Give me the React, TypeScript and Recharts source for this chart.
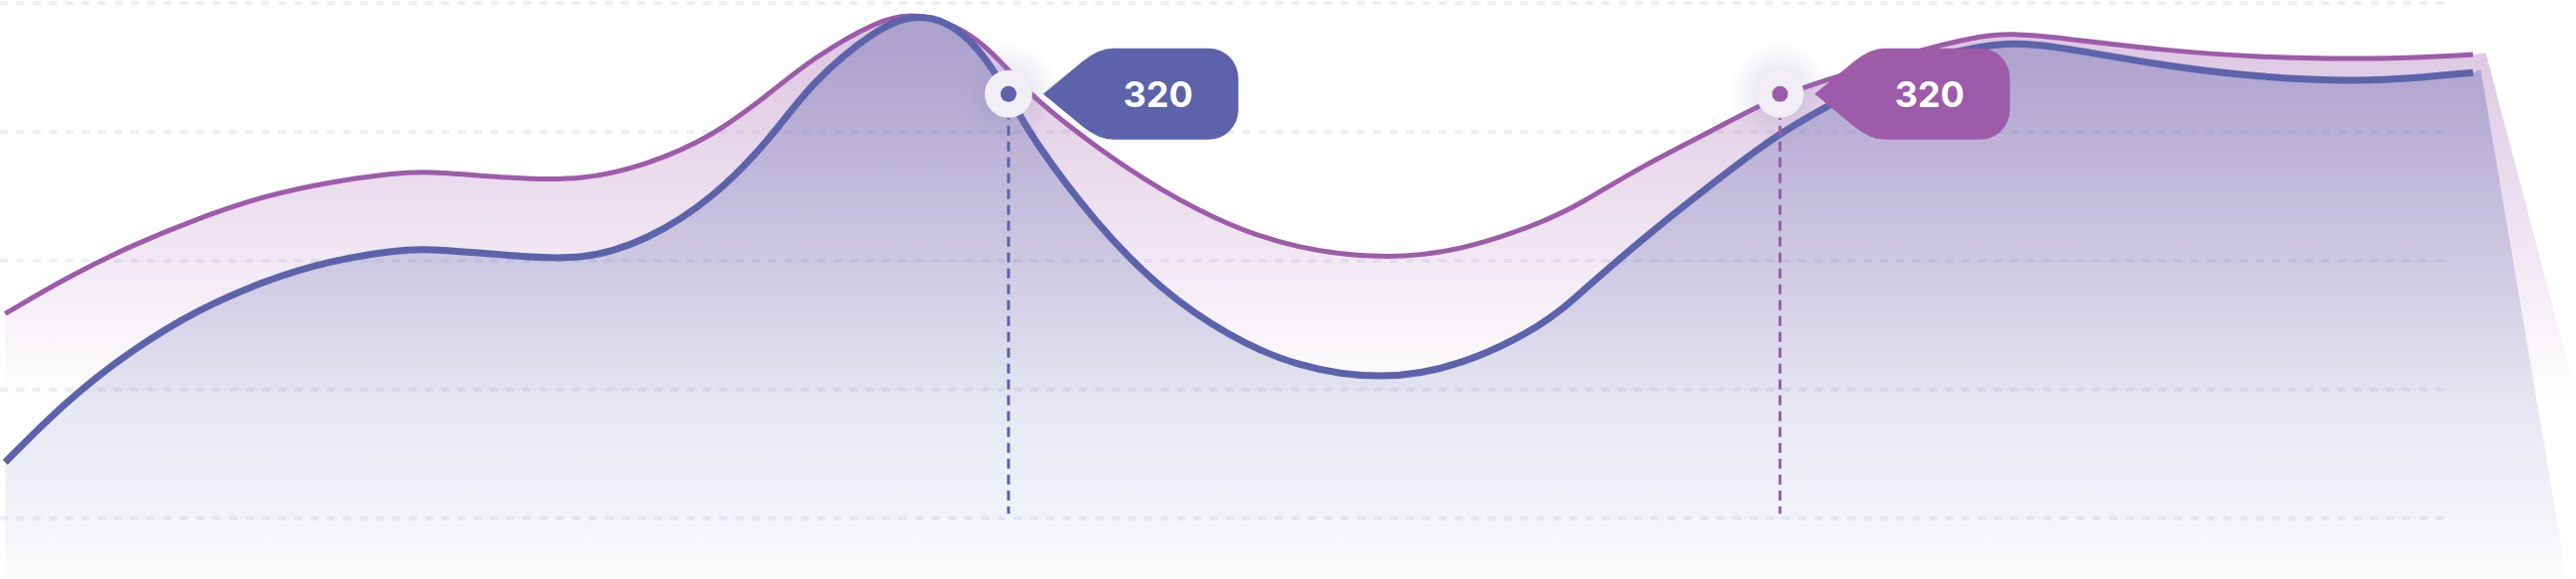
import React from 'react'
import { ComposedChart, Area, XAxis, YAxis, ReferenceLine, ReferenceDot } from 'recharts'

// sample positions along the x axis (0..100) and the two series
const positions = [
  0.2, 2.6, 5.1, 7.7, 10.3, 12.8, 15.4, 16.7, 20.0, 22.6, 25.1, 27.7, 30.0, 31.5,
  34.1, 35.4, 36.7, 38.0, 39.15, 40.0, 42.6, 45.1, 47.7, 50.3, 53.6, 56.7, 60.0,
  61.3, 63.8, 66.4, 69.1, 71.5, 74.1, 76.7, 78.1, 80.0, 83.8, 87.7, 91.5, 94.1, 96.0,
]
const violetValues = [
  175, 199, 220, 238, 253, 262, 268, 269, 264, 263, 273, 292, 322, 343,
  369, 373, 368, 356, 336, 319, 284, 256, 233, 218, 211, 216, 236,
  247, 273, 295, 320, 332, 347, 358, 360, 357, 349, 344, 343, 344, 346,
]
const indigoValues = [
  77, 118, 151, 178, 197, 210, 217, 218, 213, 210, 223, 251, 292, 328,
  364, 372, 369, 351, 320, 292, 233, 190, 160, 140, 131, 140, 168,
  188, 225, 260, 295, 317, 341, 351, 354, 351, 339, 331, 328, 331, 334,
]

// the fills run on past the end of each line down to the floor
const violetTailX = [96.0, 96.5, 101.9]
const violetTail = [346, 347, 0]
const indigoTailX = [96.0, 96.3, 99.65]
const indigoTail = [334, 336, 0]

const gridValues = [40, 125, 210, 295, 380]
const gridEnd = 95.2

const calloutSeries = ['indigo', 'violet']
const calloutPositions = [39.15, 69.1]
const calloutValues = [320, 320]
const guideFloor = 43

const COLORS: Record<string, string> = {
  violet: '#9d5baa',
  indigo: '#5c63ab',
}

const rowMap = new Map<number, Record<string, number>>()
const put = (t: number, key: string, v: number) => {
  const row = rowMap.get(t) ?? { t }
  row[key] = v
  rowMap.set(t, row)
}
positions.forEach((t, i) => {
  put(t, 'violet', violetValues[i])
  put(t, 'indigo', indigoValues[i])
})
violetTailX.forEach((t, i) => put(t, 'violetTail', violetTail[i]))
indigoTailX.forEach((t, i) => put(t, 'indigoTail', indigoTail[i]))
const data = [...rowMap.values()].sort((a, b) => a.t - b.t)

function badgePath(cx: number, cy: number) {
  return [
    `M${cx + 35},${cy}`,
    `L${cx + 75},${cy - 33}`,
    `Q${cx + 91},${cy - 46} ${cx + 106},${cy - 46}`,
    `L${cx + 202},${cy - 46}`,
    `A30,30 0 0 1 ${cx + 232},${cy - 16}`,
    `L${cx + 232},${cy + 16}`,
    `A30,30 0 0 1 ${cx + 202},${cy + 46}`,
    `L${cx + 106},${cy + 46}`,
    `Q${cx + 91},${cy + 46} ${cx + 75},${cy + 33}`,
    'Z',
  ].join(' ')
}

function Callout({ cx, cy, color, value }: { cx?: number; cy?: number; color: string; value: number }) {
  if (cx == null || cy == null) return null
  return (
    <g>
      <circle cx={cx} cy={cy} r={52} fill="url(#markerGlow)" />
      <circle cx={cx} cy={cy} r={24} fill="#f1eef5" />
      <circle cx={cx} cy={cy} r={8} fill={color} />
      <path d={badgePath(cx, cy)} fill={color} />
      <text
        x={cx + 151}
        y={cy + 13}
        textAnchor="middle"
        fill="#ffffff"
        fontFamily="Inter, 'Noto Sans', sans-serif"
        fontWeight={700}
        fontSize={36}
      >
        {value}
      </text>
    </g>
  )
}

export default function App() {
  return (
    <div style={{ position: 'absolute', left: 0, top: 0, width: 2600, height: 584, background: '#fff' }}>
      <ComposedChart width={2600} height={584} data={data} margin={{ top: 3, right: 0, bottom: 0, left: 0 }}>
        <defs>
          <linearGradient id="violetFill" gradientUnits="userSpaceOnUse" x1="0" y1="0" x2="0" y2="584">
            <stop offset="0.02" stopColor={COLORS.violet} stopOpacity={0.37} />
            <stop offset="0.5" stopColor={COLORS.violet} stopOpacity={0.11} />
            <stop offset="0.7" stopColor={COLORS.violet} stopOpacity={0} />
          </linearGradient>
          <linearGradient id="indigoFill" gradientUnits="userSpaceOnUse" x1="0" y1="0" x2="0" y2="584">
            <stop offset="0" stopColor={COLORS.indigo} stopOpacity={0.38} />
            <stop offset="0.12" stopColor={COLORS.indigo} stopOpacity={0.36} />
            <stop offset="0.3" stopColor={COLORS.indigo} stopOpacity={0.29} />
            <stop offset="0.45" stopColor={COLORS.indigo} stopOpacity={0.24} />
            <stop offset="0.67" stopColor={COLORS.indigo} stopOpacity={0.165} />
            <stop offset="0.89" stopColor={COLORS.indigo} stopOpacity={0.08} />
            <stop offset="1" stopColor={COLORS.indigo} stopOpacity={0.02} />
          </linearGradient>
          <radialGradient id="markerGlow">
            <stop offset="0.4" stopColor="#8a86b8" stopOpacity={0.18} />
            <stop offset="1" stopColor="#8a86b8" stopOpacity={0} />
          </radialGradient>
        </defs>

        <XAxis type="number" dataKey="t" domain={[0, 100]} allowDataOverflow hide />
        <YAxis type="number" domain={[0, 380]} hide />

        {gridValues.map((v) => (
          <ReferenceLine
            key={v}
            segment={[{ x: 0, y: v }, { x: gridEnd, y: v }]}
            stroke="rgba(92,99,171,0.1)"
            strokeWidth={4}
            strokeDasharray="8 8.5"
            ifOverflow="visible"
          />
        ))}

        <Area
          type="basis"
          dataKey="violet"
          stroke={COLORS.violet}
          strokeWidth={5}
          fill="url(#violetFill)"
          fillOpacity={1}
          dot={false}
          activeDot={false}
          isAnimationActive={false}
        />
        <Area
          type="linear"
          dataKey="violetTail"
          stroke="none"
          fill="url(#violetFill)"
          fillOpacity={1}
          connectNulls
          dot={false}
          activeDot={false}
          isAnimationActive={false}
        />
        <Area
          type="basis"
          dataKey="indigo"
          stroke={COLORS.indigo}
          strokeWidth={7}
          fill="url(#indigoFill)"
          fillOpacity={1}
          dot={false}
          activeDot={false}
          isAnimationActive={false}
        />
        <Area
          type="linear"
          dataKey="indigoTail"
          stroke="none"
          fill="url(#indigoFill)"
          fillOpacity={1}
          connectNulls
          dot={false}
          activeDot={false}
          isAnimationActive={false}
        />

        {calloutPositions.map((t, i) => (
          <ReferenceLine
            key={`guide-${i}`}
            segment={[{ x: t, y: calloutValues[i] }, { x: t, y: guideFloor }]}
            stroke={COLORS[calloutSeries[i]]}
            strokeWidth={3}
            strokeDasharray="10 6"
          />
        ))}

        {calloutPositions.map((t, i) => (
          <ReferenceDot
            key={`dot-${i}`}
            x={t}
            y={calloutValues[i]}
            r={24}
            shape={(props: any) => (
              <Callout cx={props.cx} cy={props.cy} color={COLORS[calloutSeries[i]]} value={calloutValues[i]} />
            )}
          />
        ))}
      </ComposedChart>
    </div>
  )
}
